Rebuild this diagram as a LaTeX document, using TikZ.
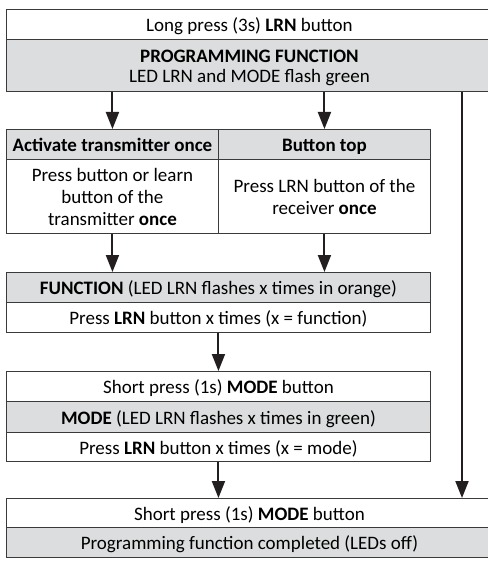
\documentclass[tikz,border=0pt]{standalone}
\usepackage{fontspec}
\setmainfont{Carlito}
\usetikzlibrary{arrows.meta}
\definecolor{cellgray}{HTML}{DCDDDE}
\definecolor{edgegray}{HTML}{3A3A3A}
\definecolor{arrowblack}{HTML}{231F20}
\begin{document}
\begin{tikzpicture}[x=1pt,y=-1pt,
  cell/.style={draw=edgegray, line width=0.9pt, inner sep=0pt, anchor=north west, align=center,
    font=\fontsize{19}{22}\selectfont, text height=17pt, text depth=2pt},
  greycell/.style={cell, fill=cellgray},
  whitecell/.style={cell, fill=white},
  arr/.style={line width=2pt, draw=arrowblack, -{Triangle[length=17pt,width=13pt]}}]
\useasboundingbox (0,0) rectangle (487,561);
% top block
\node[whitecell, minimum width=486pt, minimum height=30pt] (a1) at (6,9) {Long press (3s) \textbf{LRN} button};
\node[greycell, minimum width=486pt, minimum height=52pt, font=\fontsize{19}{20}\selectfont, text height=37pt] (a2) at (6,39) {\textbf{PROGRAMMING FUNCTION}\\LED LRN and MODE flash green};
% two columns
\node[greycell, minimum width=212pt, minimum height=30pt] (bl1) at (6,129) {\textbf{Activate transmitter once}};
\node[greycell, minimum width=212pt, minimum height=30pt] (br1) at (218,129) {\textbf{Button top}};
\node[whitecell, minimum width=212pt, minimum height=74pt, text height=61pt] (bl2) at (6,159) {Press button or learn\\button of the\\transmitter \textbf{once}};
\node[whitecell, minimum width=212pt, minimum height=74pt, text height=39pt] (br2) at (218,159) {Press LRN button of the\\receiver \textbf{once}};
% function block
\node[greycell, minimum width=424pt, minimum height=30pt] (c1) at (6,272) {\textbf{FUNCTION} (LED LRN flashes x times in orange)};
\node[whitecell, minimum width=424pt, minimum height=30pt] (c2) at (6,302) {Press \textbf{LRN} button x times (x = function)};
% mode block
\node[whitecell, minimum width=424pt, minimum height=30pt] (d1) at (6,371) {Short press (1s) \textbf{MODE} button};
\node[greycell, minimum width=424pt, minimum height=31pt] (d2) at (6,401) {\textbf{MODE} (LED LRN flashes x times in green)};
\node[whitecell, minimum width=424pt, minimum height=29pt] (d3) at (6,432) {Press \textbf{LRN} button x times (x = mode)};
% final block
\node[whitecell, minimum width=486pt, minimum height=29pt] (e1) at (6,498) {Short press (1s) \textbf{MODE} button};
\node[greycell, minimum width=486pt, minimum height=30pt] (e2) at (6,527) {Programming function completed (LEDs off)};
% connectors
\coordinate (rx) at (462,0);
\draw[arr] (a2.south -| bl1.north) -- (bl1.north);
\draw[arr] (a2.south -| br1.north) -- (br1.north);
\draw[arr] (a2.south -| rx) -- (e1.north -| rx);
\draw[arr] (bl2.south) -- (c1.north -| bl2.south);
\draw[arr] (br2.south) -- (c1.north -| br2.south);
\draw[arr] (c2.south) -- (d1.north);
\draw[arr] (d3.south) -- (e1.north -| d3.south);
\end{tikzpicture}
\end{document}
